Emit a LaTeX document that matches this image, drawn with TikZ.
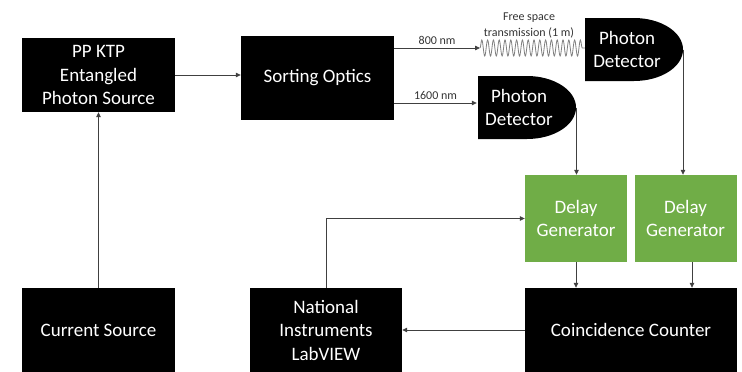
\documentclass[tikz,border=0pt]{standalone}
\usepackage{fontspec}
\setmainfont{Carlito}
\usetikzlibrary{arrows.meta,decorations.pathmorphing}

\definecolor{dlygreen}{HTML}{70AD47}
\definecolor{wiregray}{HTML}{404040}

\begin{document}
\begin{tikzpicture}[x=1pt,y=-1pt]
\tikzset{Block/.style = 
		{shape = rectangle,
		fill = black,
		text = white,
		align = center,
		inner sep = 0pt,
		font = \fontsize{19}{23.5}\selectfont,
		minimum width = 153pt,
		minimum height = 84pt},
	Delay/.style = {Block, fill = dlygreen, minimum width = 102pt, minimum height = 87pt},
	Detector/.style = {text = white, align = center, inner sep = 0pt,
		font = \fontsize{19}{23.5}\selectfont,
		minimum width = 84pt, minimum height = 63pt},
	Lbl/.style = {font = \fontsize{12}{16}\selectfont, text = black!80},
	Wire/.style = {draw = wiregray, line width = 0.8pt,
		-{Triangle[length=5pt,width=4.5pt]}},
	Wave/.style = {draw = gray, line width = 0.8pt, decorate,
		decoration = {snake, segment length = 5.8pt, amplitude = 8pt}}}
	\useasboundingbox (0,0) rectangle (742,372);

	% detector bodies (D shape)
	\fill[black] (585,18) -- (634,18) .. controls (661,18) and (683,32.1) .. (683,49.5)
		.. controls (683,66.9) and (661,81) .. (634,81) -- (585,81) -- cycle;
	\fill[black] (478,76) -- (527,76) .. controls (554,76) and (576,90.1) .. (576,107.5)
		.. controls (576,124.9) and (554,139) .. (527,139) -- (478,139) -- cycle;
	\coordinate (tipA) at (683,49.5);
	\coordinate (tipB) at (576.5,107.5);
	\coordinate (wave) at (480,48);

	\node[Block, minimum height = 74pt] (ppktp) at (98.5,75) {PP KTP\\Entangled\\Photon Source};
	\node[Block] (sorting) at (317.5,78) {Sorting Optics};
	\node[Detector] (det800) at (627,49.5) {Photon\\Detector};
	\node[Detector] (det1600) at (519,107.5) {Photon\\Detector};
	\node[Delay] (delayA) at (576,218.5) {Delay\\Generator};
	\node[Delay] (delayB) at (685.5,218.5) {Delay\\Generator};
	\node[Block] (current) at (98.5,330) {Current Source};
	\node[Block, minimum width = 152pt] (labview) at (326,330) {National\\Instruments\\LabVIEW};
	\node[Block, minimum width = 212pt] (counter) at (631,330) {Coincidence Counter};
	\node[Lbl, align = center] (freespace) at (529,25) {Free space\\transmission (1 m)};

	\draw[Wire] (current) -- (ppktp);
	\draw[Wire] (ppktp.east) -- (ppktp.east -| sorting.west);
	\draw[Wire] (sorting.east |- wave) -- node[Lbl, above] (lbl800) {800 nm} (wave);
	\draw[Wave] (wave) -- (det800.west |- wave);
	\draw[Wire] ([yshift=4.5pt]sorting.east |- det1600.west) -- node[Lbl, above] (lbl1600) {1600 nm} ([yshift=4.5pt]det1600.west);
	\draw[Wire] (tipA) -- (tipA |- delayB.north);
	\draw[Wire] (tipB) -- (tipB |- delayA.north);
	\draw[Wire] (delayA.south) -- (delayA.south |- counter.north);
	\draw[Wire] ([xshift=6.5pt]delayB.south) -- ([xshift=6.5pt]delayB.south |- counter.north);
	\draw[Wire] (counter) -- (labview);
	\draw[Wire] (labview.north) |- (delayA.west);
%	\draw[Wire] (sorting) -- (det800);
\end{tikzpicture}
\end{document}
